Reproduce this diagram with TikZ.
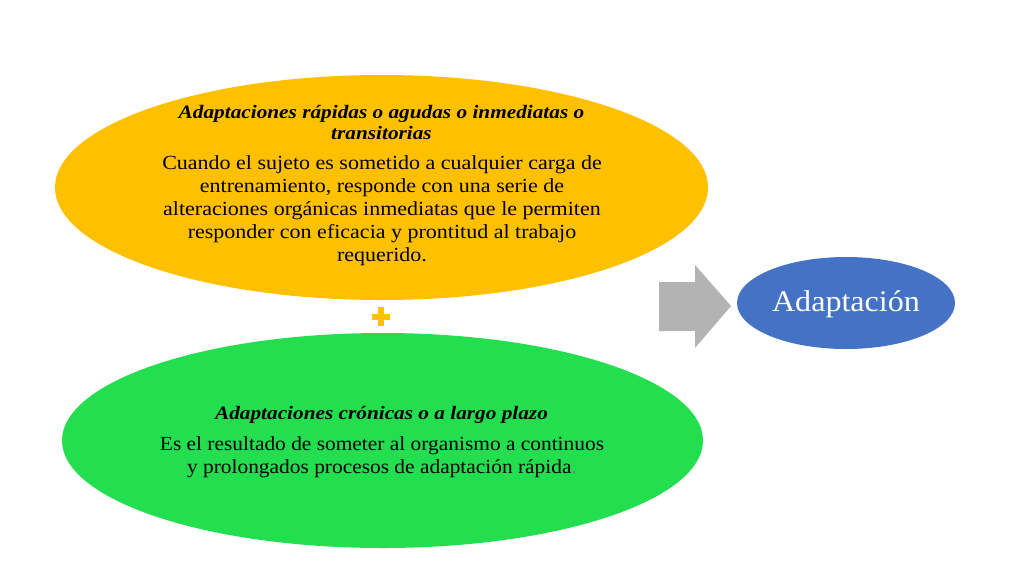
\documentclass[tikz,border=0pt]{standalone}
\usepackage{fontspec}
\setmainfont{Liberation Serif}
\newfontfamily\bodyfont[FakeStretch=1.1]{Liberation Serif}
\newfontfamily\botbodyfont[FakeStretch=1.07]{Liberation Serif}
\newfontfamily\titlefont[FakeStretch=1.12]{Liberation Serif}
\newfontfamily\resfont[FakeStretch=1.07]{Liberation Serif}
\usetikzlibrary{shapes.geometric}
\definecolor{orangeA}{HTML}{FFC000}
\definecolor{greenA}{HTML}{23DF4F}
\definecolor{blueA}{HTML}{4472C4}
\definecolor{grayA}{HTML}{B3B3B3}
\begin{document}
\begin{tikzpicture}[x=1pt,y=-1pt,
  blob/.style={ellipse,inner sep=0pt,draw=none},
  titletext/.style={align=center,font=\titlefont\fontsize{19}{21.5}\selectfont\bfseries\itshape,inner sep=0pt},
  bodytext/.style={align=center,font=\bodyfont\fontsize{20}{23}\selectfont,inner sep=0pt},
  botbodytext/.style={align=center,font=\botbodyfont\fontsize{20}{23}\selectfont,inner sep=0pt}]
\useasboundingbox (0,0) rectangle (1024,576);
\fill[white] (0,0) rectangle (1024,576);
% ellipses
\node[blob,fill=orangeA,minimum width=653pt,minimum height=225pt] (top) at (381.5,187.5) {};
\node[blob,fill=greenA,minimum width=641pt,minimum height=215pt] (bot) at (382.5,440.5) {};
\node[blob,fill=blueA,minimum width=218pt,minimum height=92pt] (res) at (846,303) {};
% texts
\node[titletext,anchor=north] (toptitle) at (381.5,105) {Adaptaciones rápidas o agudas o inmediatas o\\transitorias};
\node[bodytext,anchor=north] (topbody) at (382,155.5) {Cuando el sujeto es sometido a cualquier carga de\\entrenamiento, responde con una serie de\\alteraciones orgánicas inmediatas que le permiten\\responder con eficacia y prontitud al trabajo\\requerido.};
\node[titletext,anchor=north] (bottitle) at (381.5,406) {Adaptaciones crónicas o a largo plazo};
\node[botbodytext,anchor=north] (botbody) at (382,436.5) {Es el resultado de someter al organismo a continuos\\y prolongados procesos de adaptación rápida{\color{gray}.}};
\node[font=\resfont\fontsize{30}{34}\selectfont,text=white,inner sep=0pt] (restext) at (846,304) {Adaptación};
% plus sign
\fill[orangeA] (372,313.5) rectangle (390,319.5);
\fill[orangeA] (378,307) rectangle (384,326);
% block arrow
\fill[grayA] (659,282) -- (695,282) -- (695,265) -- (731,306) -- (695,348) -- (695,331) -- (659,331) -- cycle;
\end{tikzpicture}
\end{document}
